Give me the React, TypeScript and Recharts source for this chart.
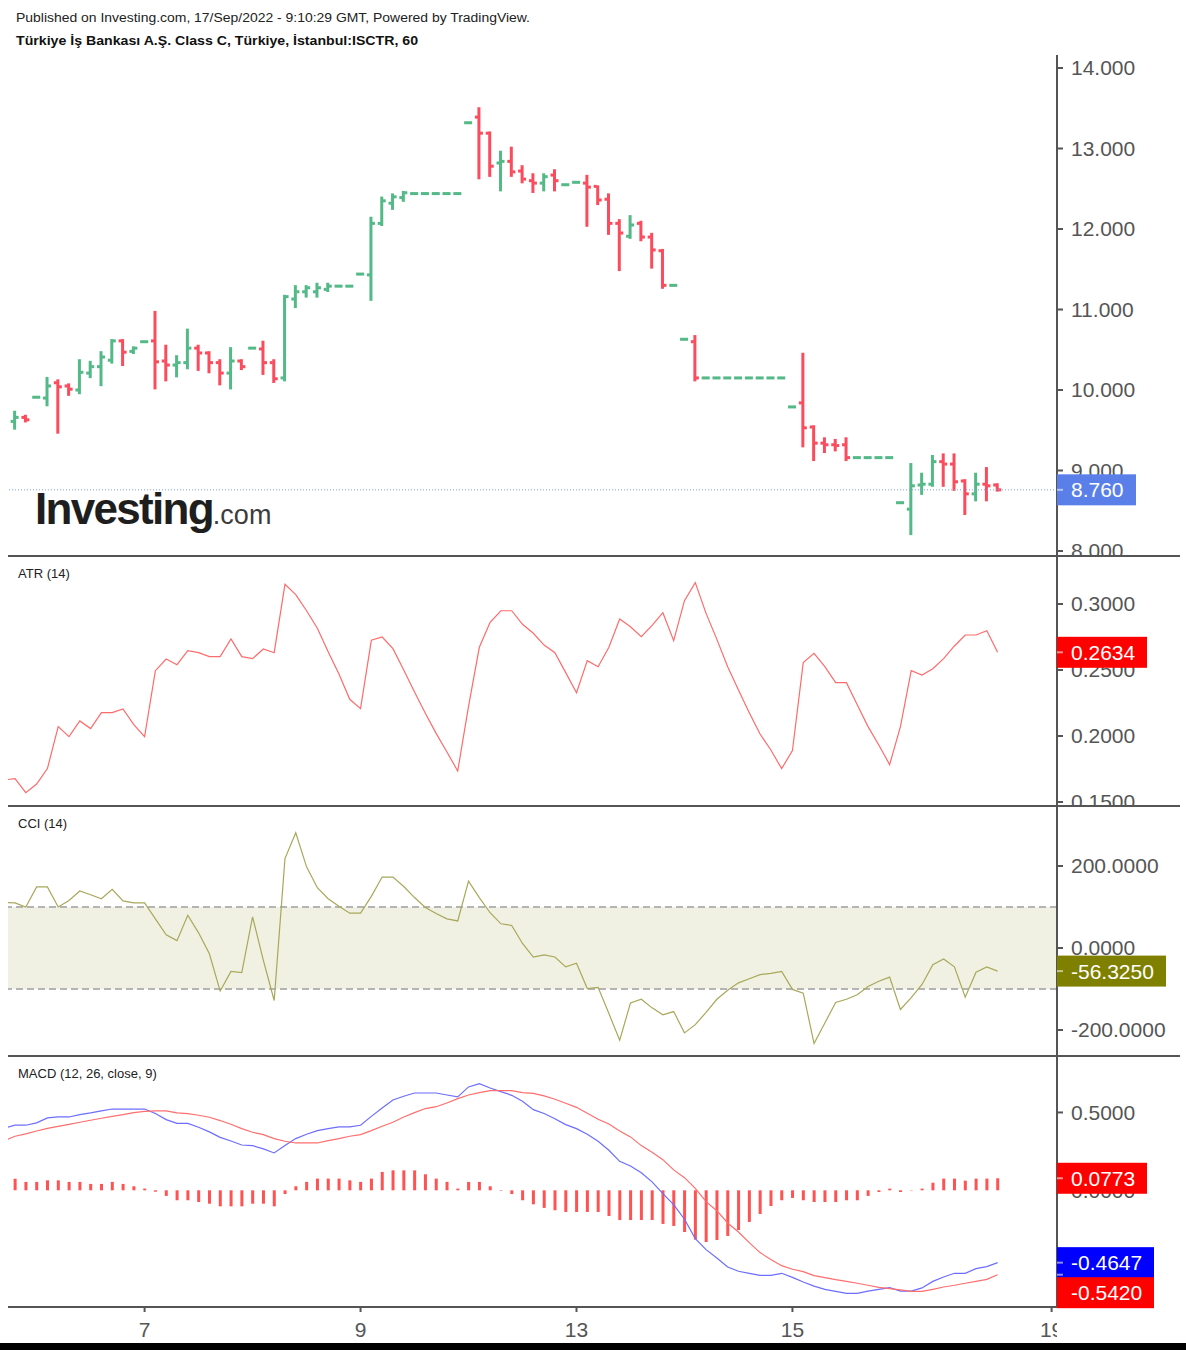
import React from 'react';
import { ComposedChart, Bar, Line, XAxis, YAxis, ReferenceLine, ReferenceArea } from 'recharts';

const FONT = "'Liberation Sans', Arial, Helvetica, sans-serif";
const AXIS = '#555555';
const UP = '#53b987';
const DOWN = '#fb4c5e';
const PLOT_RIGHT = 1057;

// hourly OHLC, one entry per bar (index 0 is cut by the left edge)
const OPEN = [
  9.58, 9.61, 9.66, 9.91, 9.9, 10.09, 10.05, 10.0, 10.21, 10.29,
  10.37, 10.61, 10.48, 10.6, 10.61, 10.36, 10.31, 10.34, 10.52, 10.46,
  10.34, 10.21, 10.36, 10.52, 10.51, 10.34, 10.15, 11.13, 11.22, 11.22,
  11.25, 11.29, 11.29, 11.44, 11.43, 12.07, 12.32, 12.39, 12.44, 12.44,
  12.44, 12.44, 12.44, 13.32, 13.39, 13.19, 12.82, 12.84, 12.72, 12.6,
  12.57, 12.67, 12.55, 12.58, 12.57, 12.53, 12.37, 12.07, 11.91, 12.07,
  11.9, 11.73, 11.3, 10.63, 10.6, 10.15, 10.15, 10.15, 10.15, 10.15,
  10.15, 10.15, 10.15, 9.79, 9.84, 9.54, 9.34, 9.32, 9.32, 9.16,
  9.16, 9.16, 9.16, 8.6, 8.52, 8.82, 8.83, 9.11, 9.08, 8.87,
  8.71, 8.83, 8.82,
];
const HIGH = [
  9.64, 9.73, 9.68, 9.91, 10.15, 10.12, 10.07, 10.37, 10.35, 10.47,
  10.62, 10.62, 10.53, 10.6, 10.97, 10.55, 10.42, 10.75, 10.55, 10.47,
  10.37, 10.52, 10.37, 10.52, 10.6, 10.37, 11.17, 11.29, 11.29, 11.32,
  11.32, 11.29, 11.29, 11.44, 12.14, 12.39, 12.43, 12.46, 12.44, 12.44,
  12.44, 12.44, 12.44, 13.32, 13.5, 13.2, 12.96, 13.01, 12.78, 12.68,
  12.68, 12.73, 12.55, 12.58, 12.66, 12.53, 12.43, 12.11, 12.16, 12.09,
  11.94, 11.74, 11.3, 10.63, 10.67, 10.15, 10.15, 10.15, 10.15, 10.15,
  10.15, 10.15, 10.15, 9.79, 10.45, 9.55, 9.4, 9.38, 9.4, 9.16,
  9.16, 9.16, 9.16, 8.6, 9.08, 8.96, 9.18, 9.2, 9.2, 8.88,
  8.96, 9.03, 8.83,
];
const LOW = [
  9.55, 9.52, 9.61, 9.91, 9.81, 9.47, 9.94, 9.96, 10.16, 10.06,
  10.34, 10.31, 10.46, 10.6, 10.02, 10.12, 10.17, 10.27, 10.25, 10.22,
  10.07, 10.02, 10.26, 10.52, 10.2, 10.1, 10.12, 11.03, 11.16, 11.16,
  11.23, 11.29, 11.29, 11.44, 11.12, 12.05, 12.25, 12.35, 12.44, 12.44,
  12.44, 12.44, 12.44, 13.32, 12.63, 12.66, 12.48, 12.66, 12.58, 12.46,
  12.48, 12.48, 12.55, 12.58, 12.04, 12.31, 11.94, 11.49, 11.89, 11.86,
  11.52, 11.27, 11.3, 10.63, 10.12, 10.15, 10.15, 10.15, 10.15, 10.15,
  10.15, 10.15, 10.15, 9.79, 9.3, 9.13, 9.23, 9.25, 9.13, 9.16,
  9.16, 9.16, 9.16, 8.6, 8.21, 8.71, 8.81, 8.81, 8.76, 8.46,
  8.63, 8.63, 8.75,
];
const CLOSE = [
  9.61, 9.66, 9.63, 9.91, 10.05, 10.04, 10.01, 10.22, 10.29, 10.41,
  10.61, 10.47, 10.52, 10.6, 10.35, 10.31, 10.34, 10.52, 10.46, 10.34,
  10.21, 10.36, 10.29, 10.52, 10.34, 10.14, 11.16, 11.22, 11.27, 11.27,
  11.29, 11.29, 11.29, 11.44, 12.07, 12.35, 12.4, 12.45, 12.44, 12.44,
  12.44, 12.44, 12.44, 13.32, 13.19, 12.78, 12.84, 12.71, 12.62, 12.57,
  12.65, 12.6, 12.55, 12.58, 12.52, 12.36, 12.07, 11.95, 12.05, 11.9,
  11.74, 11.3, 11.3, 10.63, 10.15, 10.15, 10.15, 10.15, 10.15, 10.15,
  10.15, 10.15, 10.15, 9.79, 9.53, 9.34, 9.32, 9.31, 9.16, 9.16,
  9.16, 9.16, 9.16, 8.6, 8.81, 8.83, 9.11, 9.08, 8.86, 8.71,
  8.83, 8.81, 8.76,
];

const ATR = [
  0.1667, 0.1677, 0.1571, 0.1636, 0.1753, 0.2071, 0.1995, 0.2114, 0.2056, 0.2177,
  0.2177, 0.2205, 0.2086, 0.1995, 0.2495, 0.2583, 0.254, 0.2646, 0.2631, 0.2601,
  0.2601, 0.2735, 0.2601, 0.2586, 0.2659, 0.2631, 0.3149, 0.3071, 0.2949, 0.2816,
  0.2639, 0.247, 0.2278, 0.2207, 0.2725, 0.275, 0.2662, 0.25, 0.2333, 0.2172,
  0.202, 0.1879, 0.1735, 0.2225, 0.2672, 0.2861, 0.2949, 0.2949, 0.2846, 0.2778,
  0.2689, 0.2631, 0.248, 0.2328, 0.2571, 0.2525, 0.2672, 0.2886, 0.2828, 0.2753,
  0.2838, 0.2934, 0.2722, 0.3025, 0.3162, 0.2929, 0.2732, 0.2525, 0.2348, 0.2177,
  0.2015, 0.1894, 0.1753, 0.1889, 0.2556, 0.2626, 0.2525, 0.2404, 0.2404, 0.2237,
  0.2071, 0.1932, 0.1783, 0.2071, 0.2495, 0.2462, 0.251, 0.2586, 0.2682, 0.2765,
  0.2765, 0.2798, 0.2634,
];

const CCI = [
  111, 110, 100, 149, 149, 100, 116, 139, 130, 120,
  143, 115, 110, 110, 71, 32, 18, 80, 37, -14,
  -105, -57, -60, 76, -30, -128, 218, 281, 198, 147,
  120, 102, 85, 85, 126, 173, 173, 150, 123, 99,
  84, 71, 66, 163, 123, 86, 59, 55, 11, -22,
  -17, -22, -46, -37, -99, -96, -160, -225, -134, -125,
  -146, -163, -155, -207, -187, -157, -125, -103, -85, -75,
  -65, -62, -57, -101, -110, -233, -183, -133, -125, -114,
  -94, -81, -71, -150, -121, -89, -41, -27, -46, -120,
  -59, -46, -56.325,
];

const MACD = [
  0.4, 0.418, 0.418, 0.433, 0.465, 0.471, 0.471, 0.486, 0.497, 0.51,
  0.522, 0.522, 0.522, 0.522, 0.493, 0.454, 0.43, 0.43, 0.405, 0.375,
  0.34, 0.317, 0.291, 0.287, 0.266, 0.24, 0.287, 0.332, 0.36, 0.383,
  0.396, 0.407, 0.407, 0.418, 0.475, 0.529, 0.58, 0.604, 0.625, 0.625,
  0.625, 0.612, 0.6, 0.664, 0.685, 0.657, 0.634, 0.61, 0.572, 0.518,
  0.493, 0.46, 0.422, 0.396, 0.36, 0.315, 0.257, 0.186, 0.156, 0.113,
  0.054, -0.021, -0.092, -0.186, -0.31, -0.381, -0.435, -0.493, -0.52, -0.533,
  -0.546, -0.546, -0.533, -0.559, -0.589, -0.615, -0.636, -0.649, -0.662, -0.662,
  -0.647, -0.636, -0.625, -0.647, -0.647, -0.627, -0.585, -0.557, -0.533, -0.533,
  -0.503, -0.49, -0.4647,
];

const SIGNAL = [
  0.319, 0.347, 0.362, 0.381, 0.398, 0.411, 0.424, 0.437, 0.45, 0.463,
  0.475, 0.486, 0.499, 0.507, 0.51, 0.51, 0.497, 0.493, 0.482, 0.469,
  0.448, 0.424, 0.396, 0.373, 0.358, 0.332, 0.315, 0.304, 0.304, 0.304,
  0.319, 0.332, 0.347, 0.358, 0.383, 0.411, 0.437, 0.471, 0.499, 0.525,
  0.537, 0.561, 0.589, 0.612, 0.627, 0.64, 0.64, 0.64, 0.627, 0.623,
  0.606, 0.585, 0.559, 0.533, 0.495, 0.456, 0.426, 0.381, 0.343, 0.287,
  0.244, 0.197, 0.131, 0.081, 0.013, -0.073, -0.131, -0.21, -0.268, -0.336,
  -0.4, -0.445, -0.484, -0.507, -0.522, -0.548, -0.561, -0.574, -0.585, -0.597,
  -0.61, -0.623, -0.632, -0.64, -0.649, -0.649, -0.636, -0.621, -0.61, -0.597,
  -0.585, -0.572, -0.542,
];

const HIST = [
  0.081, 0.075, 0.054, 0.054, 0.064, 0.064, 0.054, 0.054, 0.041, 0.041,
  0.054, 0.041, 0.026, 0.011, -0.009, -0.036, -0.064, -0.064, -0.075, -0.086,
  -0.103, -0.103, -0.103, -0.086, -0.086, -0.103, -0.024, 0.026, 0.054, 0.075,
  0.075, 0.075, 0.064, 0.054, 0.075, 0.118, 0.128, 0.128, 0.128, 0.103,
  0.075, 0.054, 0.011, 0.054, 0.054, 0.026, -0.003, -0.024, -0.064, -0.09,
  -0.113, -0.128, -0.139, -0.139, -0.139, -0.139, -0.165, -0.191, -0.191, -0.191,
  -0.191, -0.216, -0.229, -0.268, -0.317, -0.332, -0.319, -0.293, -0.255, -0.203,
  -0.152, -0.101, -0.064, -0.049, -0.064, -0.075, -0.075, -0.075, -0.064, -0.064,
  -0.036, -0.011, 0.011, -0.011, 0.002, 0.011, 0.049, 0.075, 0.075, 0.062,
  0.075, 0.075, 0.0773,
];

const DAY_TICKS = [13, 33, 53, 73, 97];
const DAY_LABELS = ['7', '9', '13', '15', '19'];
const PRICE_TICKS = [8, 9, 10, 11, 12, 13, 14];
const ATR_TICKS = [0.15, 0.2, 0.25, 0.3];
const CCI_TICKS = [-200, 0, 200];
const MACD_TICKS = [0, 0.5];

const LAST_PRICE = 8.76;
const LAST_ATR = 0.2634;
const LAST_CCI = -56.325;
const LAST_HIST = 0.0773;
const LAST_MACD = -0.4647;
const LAST_SIGNAL = -0.542;

const X_DOMAIN = [0.35, 97.5];
const PRICE_DOMAIN = [7.938, 14.1615];
const ATR_DOMAIN = [0.14697, 0.33636];
const CCI_DOMAIN = [-263.4, 346.3];
const MACD_DOMAIN = [-0.7495, 0.8626];

const rows = OPEN.map((o, i) => ({
  i,
  o,
  h: HIGH[i],
  l: LOW[i],
  c: CLOSE[i],
  atr: ATR[i],
  cci: CCI[i],
  macd: MACD[i],
  signal: SIGNAL[i],
  hist: HIST[i],
}));

const OhlcShape = (props: any) => {
  const { x, y, width, height, payload } = props;
  if (x == null || payload == null) return null;
  const { o, h, l, c } = payload;
  const top = Math.min(y, y + height);
  const bottom = Math.max(y, y + height);
  const span = h - l;
  const cx = x + width / 2;
  const color = c >= o ? UP : DOWN;
  if (span <= 0) {
    // a bar with no range is just one dash
    return <rect x={cx - 4} y={top - 1.5} width={8} height={3} fill={color} />;
  }
  const py = (p: number) => top + ((h - p) / span) * (bottom - top);
  return (
    <g fill={color}>
      <rect x={cx - 1.5} y={top - 1} width={3} height={bottom - top + 2} />
      <rect x={cx - 4} y={py(o) - 1.5} width={3} height={3} />
      <rect x={cx + 1} y={py(c) - 1.5} width={3} height={3} />
    </g>
  );
};

function tagWidth(text: string) {
  let em = 0;
  for (const ch of text) em += ch === '.' ? 0.278 : ch === '-' ? 0.333 : 0.556;
  return Math.round(14 + em * 21 + 12);
}

function valueTag(text: string, bg: string, shift = 0) {
  return (props: any) => {
    const vb = props.viewBox || {};
    const x0 = (vb.x ?? 0) + (vb.width ?? 0);
    const yv = vb.y ?? 0;
    const yc = yv + shift;
    return (
      <g>
        <rect x={x0} y={yc - 15.5} width={tagWidth(text)} height={31} fill={bg} />
        <line x1={x0} x2={x0 + 6} y1={yv} y2={yv} stroke="rgba(255,255,255,0.55)" strokeWidth={2} />
        <text x={x0 + 14} y={yc} dy="0.36em" fill="#ffffff" fontSize={21} fontFamily={FONT}>
          {text}
        </text>
      </g>
    );
  };
}

function DayTick(props: any) {
  const { x, y, payload } = props;
  const k = DAY_TICKS.indexOf(payload.value);
  const label = k >= 0 ? DAY_LABELS[k] : String(payload.value);
  const left = x - 30;
  const w = Math.max(0, Math.min(60, PLOT_RIGHT - left));
  return (
    <svg x={left} y={y} width={w} height={34} overflow="hidden">
      <text x={30} y={23} textAnchor="middle" fill={AXIS} fontSize={21} fontFamily={FONT}>
        {label}
      </text>
    </svg>
  );
}

const yAxisProps = {
  orientation: 'right' as const,
  width: 129,
  allowDataOverflow: true,
  interval: 0 as const,
  tickSize: 6,
  tickMargin: 8,
  tick: { fill: AXIS, fontSize: 21, fontFamily: FONT },
  tickLine: { stroke: AXIS, strokeWidth: 2 },
  axisLine: { stroke: AXIS, strokeWidth: 2 },
};

const MARGIN = { top: 0, right: 0, bottom: 0, left: 8 };

type Tag = { value: number; text: string; bg: string; shift?: number };

// the last-value tags sit on their own layer so that they cover the axis ticks
function TagLayer({ top, height, bottom = 0, domain, tags }: { top: number; height: number; bottom?: number; domain: number[]; tags: Tag[] }) {
  return (
    <div style={{ position: 'absolute', left: 0, top, pointerEvents: 'none' }}>
      <ComposedChart width={1186} height={height} data={rows} margin={{ top: 0, right: 129, bottom, left: 8 }}>
        <XAxis dataKey="i" type="number" domain={X_DOMAIN} hide allowDataOverflow />
        <YAxis hide domain={domain} allowDataOverflow />
        {tags.map((t) => (
          <ReferenceLine
            key={t.text}
            y={t.value}
            stroke="none"
            ifOverflow="visible"
            label={valueTag(t.text, t.bg, t.shift ?? 0)}
          />
        ))}
      </ComposedChart>
    </div>
  );
}

export default function App() {
  return (
    <div
      style={{
        position: 'absolute',
        left: 0,
        top: 0,
        width: 1186,
        height: 1350,
        background: '#ffffff',
        overflow: 'hidden',
        fontFamily: FONT,
      }}
    >
      {/* price */}
      <div style={{ position: 'absolute', left: 0, top: 55 }}>
        <ComposedChart width={1186} height={501} data={rows} margin={MARGIN}>
          <XAxis dataKey="i" type="number" domain={X_DOMAIN} hide allowDataOverflow />
          <YAxis
            {...yAxisProps}
            domain={PRICE_DOMAIN}
            ticks={PRICE_TICKS}
            tickFormatter={(v: number) => v.toFixed(3)}
          />
          <ReferenceLine y={LAST_PRICE} stroke="#7f9cf5" strokeDasharray="1 2" strokeWidth={1} />
          <Bar
            dataKey={(d: any) => [d.l, d.h]}
            barSize={8}
            shape={OhlcShape}
            isAnimationActive={false}
          />
        </ComposedChart>
      </div>

      {/* ATR */}
      <div style={{ position: 'absolute', left: 0, top: 556 }}>
        <ComposedChart width={1186} height={250} data={rows} margin={MARGIN}>
          <XAxis dataKey="i" type="number" domain={X_DOMAIN} hide allowDataOverflow />
          <YAxis
            {...yAxisProps}
            domain={ATR_DOMAIN}
            ticks={ATR_TICKS}
            tickFormatter={(v: number) => v.toFixed(4)}
          />
          <Line
            dataKey="atr"
            type="linear"
            stroke="#ff6b6b"
            strokeWidth={1.2}
            dot={false}
            isAnimationActive={false}
          />
        </ComposedChart>
      </div>

      {/* CCI */}
      <div style={{ position: 'absolute', left: 0, top: 806 }}>
        <ComposedChart width={1186} height={250} data={rows} margin={MARGIN}>
          <XAxis dataKey="i" type="number" domain={X_DOMAIN} hide allowDataOverflow />
          <YAxis
            {...yAxisProps}
            domain={CCI_DOMAIN}
            ticks={CCI_TICKS}
            tickFormatter={(v: number) => v.toFixed(4)}
          />
          <ReferenceArea y1={-100} y2={100} fill="#f1f1e3" fillOpacity={1} stroke="none" />
          <ReferenceLine y={100} stroke="#b4b4b4" strokeWidth={2} strokeDasharray="7 4" />
          <ReferenceLine y={-100} stroke="#b4b4b4" strokeWidth={2} strokeDasharray="7 4" />
          <Line
            dataKey="cci"
            type="linear"
            stroke="#a8a85a"
            strokeWidth={1.2}
            dot={false}
            isAnimationActive={false}
          />
        </ComposedChart>
      </div>

      {/* MACD */}
      <div style={{ position: 'absolute', left: 0, top: 1056 }}>
        <ComposedChart width={1186} height={291} data={rows} margin={MARGIN}>
          <XAxis
            dataKey="i"
            type="number"
            domain={X_DOMAIN}
            allowDataOverflow
            ticks={DAY_TICKS}
            interval={0}
            tick={DayTick}
            tickSize={5}
            tickLine={{ stroke: AXIS, strokeWidth: 2 }}
            axisLine={{ stroke: AXIS, strokeWidth: 2 }}
            height={40}
          />
          <YAxis
            {...yAxisProps}
            domain={MACD_DOMAIN}
            ticks={MACD_TICKS}
            tickFormatter={(v: number) => v.toFixed(4)}
          />
          <Bar dataKey="hist" barSize={3} fill="#ff5252" isAnimationActive={false} />
          <Line
            dataKey="macd"
            type="linear"
            stroke="#6d6dff"
            strokeWidth={1.2}
            dot={false}
            isAnimationActive={false}
          />
          <Line
            dataKey="signal"
            type="linear"
            stroke="#ff6e6e"
            strokeWidth={1.2}
            dot={false}
            isAnimationActive={false}
          />
        </ComposedChart>
      </div>

      <TagLayer
        top={55}
        height={501}
        domain={PRICE_DOMAIN}
        tags={[{ value: LAST_PRICE, text: LAST_PRICE.toFixed(3), bg: '#5a7fe8' }]}
      />
      <TagLayer
        top={556}
        height={250}
        domain={ATR_DOMAIN}
        tags={[{ value: LAST_ATR, text: LAST_ATR.toFixed(4), bg: '#ff0000' }]}
      />
      <TagLayer
        top={806}
        height={250}
        domain={CCI_DOMAIN}
        tags={[{ value: LAST_CCI, text: LAST_CCI.toFixed(4), bg: '#808000' }]}
      />
      <TagLayer
        top={1056}
        height={291}
        bottom={40}
        domain={MACD_DOMAIN}
        tags={[
          { value: LAST_HIST, text: LAST_HIST.toFixed(4), bg: '#ff0000' },
          { value: LAST_MACD, text: LAST_MACD.toFixed(4), bg: '#0000ff' },
          { value: LAST_SIGNAL, text: LAST_SIGNAL.toFixed(4), bg: '#ff0000', shift: 18 },
        ]}
      />

      {/* pane separators */}
      {[555, 805, 1055].map((t) => (
        <div
          key={t}
          style={{ position: 'absolute', left: 8, top: t, width: 1172, height: 2, background: AXIS }}
        />
      ))}
      <div style={{ position: 'absolute', left: 0, top: 1343, width: 1186, height: 7, background: '#000' }} />

      <svg
        width={1186}
        height={1350}
        style={{ position: 'absolute', left: 0, top: 0, pointerEvents: 'none' }}
      >
        <text x={16} y={21.5} fontSize={12.5} fill="#222" fontFamily={FONT} textLength={514} lengthAdjust="spacingAndGlyphs">
          Published on Investing.com, 17/Sep/2022 - 9:10:29 GMT, Powered by TradingView.
        </text>
        <text x={16} y={44.5} fontSize={12.5} fontWeight={700} fill="#111" fontFamily={FONT} textLength={402} lengthAdjust="spacingAndGlyphs">
          Türkiye İş Bankası A.Ş. Class C, Türkiye, İstanbul:ISCTR, 60
        </text>
        <text x={35} y={524} fontFamily={FONT}>
          <tspan fontSize={44} fontWeight={700} fill="#1e1e1e" letterSpacing={-1.7}>
            Investing
          </tspan>
          <tspan fontSize={27} fill="#3c3c3c">
            .com
          </tspan>
        </text>
        <text x={18} y={578} fontSize={13} fill="#222" fontFamily={FONT}>ATR (14)</text>
        <text x={18} y={828} fontSize={13} fill="#222" fontFamily={FONT}>CCI (14)</text>
        <text x={18} y={1078} fontSize={13} fill="#222" fontFamily={FONT}>MACD (12, 26, close, 9)</text>
      </svg>
    </div>
  );
}
